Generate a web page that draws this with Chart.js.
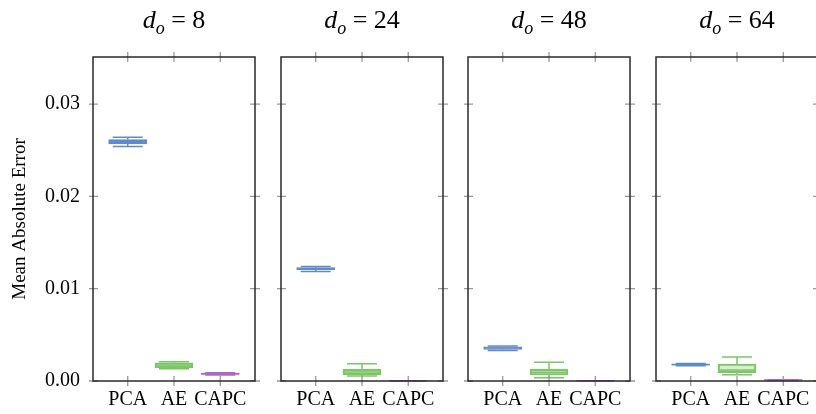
<!DOCTYPE html>
<html>
<head>
<meta charset="utf-8">
<script src="https://cdn.jsdelivr.net/npm/chart.js@4.4.1/dist/chart.umd.min.js"></script>
<style>
  html, body { margin: 0; padding: 0; background: #fff; overflow: hidden; }
  #wrap { position: relative; width: 816px; height: 414px; }
  #wrap canvas { position: absolute; left: 0; top: 0; }
  .ttl {
    position: absolute; top: 4px; width: 162px; text-align: center;
    font-family: "Liberation Serif", "Times New Roman", serif; font-size: 26px;
    line-height: 32px; white-space: nowrap; color: #000;
  }
  .ttl sub { font-size: 18px; vertical-align: -6px; line-height: 0; }
</style>
</head>
<body>
<div id="wrap"></div>
<script>
const methods = ['PCA', 'AE', 'CAPC'];
const outputDims = [8, 24, 48, 64];
const yTickValues = [0, 0.01, 0.02, 0.03];

// [min, q1, median, q3, max] per d_o
const pcaStats = [
  [0.0254, 0.02568, 0.02592, 0.02615, 0.0264],
  [0.01185, 0.01205, 0.01215, 0.01228, 0.0124],
  [0.0033, 0.00342, 0.00357, 0.0037, 0.0038],
  [0.00165, 0.00172, 0.00178, 0.00184, 0.0019]
];
const aeStats = [
  [0.00133, 0.00145, 0.00172, 0.00198, 0.00209],
  [0.00055, 0.00068, 0.00097, 0.00127, 0.00187],
  [0.00036, 0.00065, 0.00095, 0.00127, 0.00203],
  [0.00068, 0.0009, 0.0012, 0.00184, 0.0026]
];
const capcStats = [
  [0.00065, 0.00072, 0.00078, 0.00085, 0.0009],
  [0.0, 0.00001, 0.00002, 0.00003, 0.00004],
  [0.0, 0.00001, 0.00002, 0.00003, 0.00004],
  [0.00005, 0.00008, 0.0001, 0.00012, 0.00014]
];

const lineColors = ['rgb(98,138,200)', 'rgb(124,198,102)', 'rgb(172,104,200)'];
const fillColors = ['rgba(98,138,200,0.3)', 'rgba(124,198,102,0.3)', 'rgba(172,104,200,0.3)'];

const panelLeft = [93, 281, 468, 656];
const panelWidth = 162;
const plotTop = 57;
const plotBottom = 381;
const canvasW = 830;
const serif = '"Liberation Serif", "Times New Roman", serif';

const wrap = document.getElementById('wrap');

// whiskers, caps, medians, then the framed box with crossing ticks
const boxDecor = (stats) => ({
  id: 'boxDecor',
  afterDatasetsDraw(chart) {
    const { ctx, scales: { x, y } } = chart;
    ctx.save();
    ctx.lineWidth = 1.5;
    stats.forEach((s, i) => {
      const cx = x.getPixelForValue(i);
      ctx.strokeStyle = lineColors[i];
      ctx.beginPath();
      ctx.moveTo(cx, y.getPixelForValue(s[4]));
      ctx.lineTo(cx, y.getPixelForValue(s[3]));
      ctx.moveTo(cx, y.getPixelForValue(s[1]));
      ctx.lineTo(cx, y.getPixelForValue(s[0]));
      [s[0], s[4]].forEach(v => {
        const py = y.getPixelForValue(v);
        ctx.moveTo(cx - 15, py);
        ctx.lineTo(cx + 15, py);
      });
      const my = y.getPixelForValue(s[2]);
      ctx.moveTo(cx - 19, my);
      ctx.lineTo(cx + 19, my);
      ctx.stroke();
    });
    ctx.restore();
  },
  afterDraw(chart) {
    const { ctx, chartArea: a, scales: { x, y } } = chart;
    ctx.save();
    ctx.strokeStyle = '#999';
    ctx.lineWidth = 1.3;
    ctx.beginPath();
    x.ticks.forEach(t => {
      const px = x.getPixelForValue(t.value);
      ctx.moveTo(px, a.top - 5); ctx.lineTo(px, a.top + 5);
      ctx.moveTo(px, a.bottom - 5); ctx.lineTo(px, a.bottom + 5);
    });
    y.ticks.forEach(t => {
      const py = y.getPixelForValue(t.value);
      ctx.moveTo(a.left - 4, py); ctx.lineTo(a.left + 5, py);
      ctx.moveTo(a.right - 5, py); ctx.lineTo(a.right + 5, py);
    });
    ctx.stroke();
    ctx.strokeStyle = '#2a2a2a';
    ctx.lineWidth = 1.5;
    ctx.strokeRect(a.left, a.top, a.right - a.left, a.bottom - a.top);
    ctx.restore();
  }
});

function makePanel(p) {
  const stats = [pcaStats[p], aeStats[p], capcStats[p]];
  const first = p === 0;
  const yAxisW = first ? panelLeft[0] : 0;

  const canvas = document.createElement('canvas');
  canvas.width = canvasW;
  canvas.height = 414;
  wrap.appendChild(canvas);

  const ttl = document.createElement('div');
  ttl.className = 'ttl';
  ttl.style.left = panelLeft[p] + 'px';
  ttl.innerHTML = '<i>d</i><sub><i>o</i></sub> = ' + outputDims[p];
  wrap.appendChild(ttl);

  new Chart(canvas, {
    type: 'bar',
    data: {
      datasets: [{
        data: stats.map((s, i) => ({ x: i, y: [s[1], s[3]] })),
        backgroundColor: fillColors,
        borderColor: lineColors,
        borderWidth: 1.5,
        borderSkipped: false,
        barThickness: 38
      }]
    },
    options: {
      responsive: false,
      animation: false,
      layout: {
        padding: {
          left: panelLeft[p] - yAxisW,
          right: canvasW - panelLeft[p] - panelWidth,
          top: plotTop,
          bottom: 0
        }
      },
      plugins: { legend: { display: false }, tooltip: { enabled: false } },
      scales: {
        x: {
          type: 'linear',
          min: -0.75,
          max: 2.75,
          offset: false,
          grid: { display: false, drawTicks: false, offset: false },
          border: { display: false },
          afterBuildTicks: s => { s.ticks = methods.map((m, i) => ({ value: i })); },
          afterFit: s => { s.height = 414 - plotBottom; },
          ticks: {
            callback: v => methods[v],
            padding: 7,
            autoSkip: false,
            maxRotation: 0,
            color: '#000',
            font: { family: serif, size: 20 }
          }
        },
        y: {
          min: 0,
          max: 0.0351,
          grid: { display: false, drawTicks: false },
          border: { display: false },
          afterBuildTicks: s => { s.ticks = yTickValues.map(v => ({ value: v })); },
          afterFit: s => { s.width = yAxisW; },
          ticks: {
            display: first,
            callback: v => v.toFixed(2),
            padding: 13,
            color: '#000',
            font: { family: serif, size: 20 }
          },
          title: {
            display: first,
            text: 'Mean Absolute Error',
            color: '#000',
            font: { family: serif, size: 19 },
            padding: { top: 9, bottom: 0 }
          }
        }
      }
    },
    plugins: [boxDecor(stats)]
  });
}

outputDims.forEach((d, p) => makePanel(p));
</script>
</body>
</html>
